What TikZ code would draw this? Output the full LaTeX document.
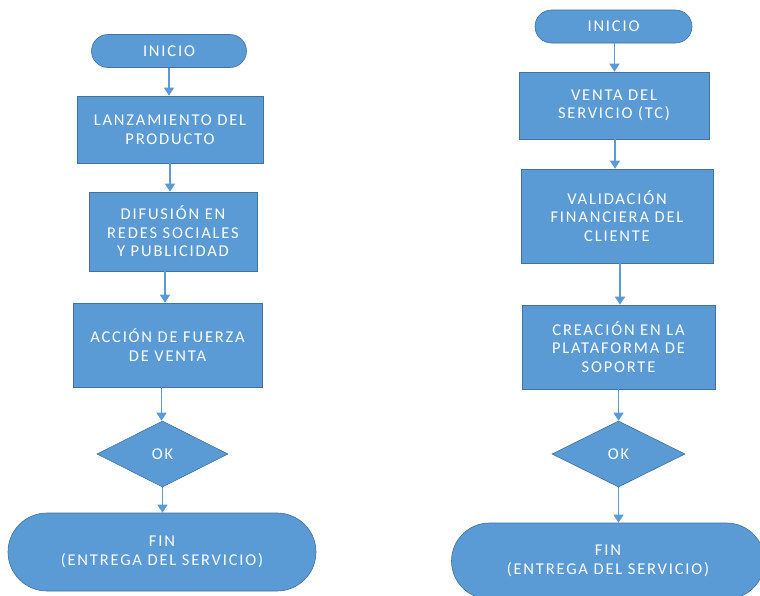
\documentclass[tikz,border=0pt]{standalone}
\usepackage{fontspec}
\newfontfamily\lbl{Carlito}[LetterSpace=11]
\usetikzlibrary{shapes.geometric,arrows.meta}
\definecolor{boxblue}{RGB}{91,155,213}
\definecolor{edgeblue}{RGB}{65,113,156}
\definecolor{arrblue}{RGB}{91,155,213}
\tikzset{
  base/.style={fill=boxblue, draw=edgeblue, line width=0.6pt, text=white, align=center,
    font=\lbl\fontsize{16.5}{18.5}\selectfont, inner sep=0pt},
  procbox/.style={base, rectangle},
  termbox/.style={base, rectangle},
  okbox/.style={base, diamond},
  arr/.style={draw=arrblue, line width=1.3pt, -{Triangle[width=10pt,length=8pt]}}
}
\begin{document}
\begin{tikzpicture}[x=1pt,y=-1pt]
\useasboundingbox (0,0) rectangle (760,595);
\path[clip] (0,0) rectangle (760,595);
\fill[white] (0,0) rectangle (760,595);
% left chart
\node[termbox, minimum width=155pt, minimum height=33pt, rounded corners=16.5pt] (i1) at (169,51) {INICIO};
\node[procbox, minimum width=186pt, minimum height=67pt] (b1) at (170,129.5) {LANZAMIENTO DEL\\PRODUCTO};
\node[procbox, minimum width=168pt, minimum height=79pt] (b2) at (173,231.5) {DIFUSIÓN EN\\REDES SOCIALES\\Y PUBLICIDAD};
\node[procbox, minimum width=189pt, minimum height=84pt] (b3) at (167.5,345) {ACCIÓN DE FUERZA\\DE VENTA};
\node[okbox, minimum width=131pt, minimum height=66pt] (d1) at (162.5,454) {OK};
\node[termbox, minimum width=308pt, minimum height=78pt, rounded corners=39pt] (f1) at (162,552) {FIN\\(ENTREGA DEL SERVICIO)};
% right chart
\node[termbox, minimum width=157pt, minimum height=33pt, rounded corners=16.5pt] (i2) at (613.5,26.5) {INICIO};
\node[procbox, minimum width=190pt, minimum height=67pt] (c1) at (614,105.5) {VENTA DEL\\SERVICIO (TC)};
\node[procbox, minimum width=192pt, minimum height=94pt] (c2) at (617,216) {VALIDACIÓN\\FINANCIERA DEL\\CLIENTE};
\node[procbox, minimum width=193pt, minimum height=84pt] (c3) at (618.5,347) {CREACIÓN EN LA\\PLATAFORMA DE\\SOPORTE};
\node[okbox, minimum width=133pt, minimum height=66pt] (d2) at (618.5,454) {OK};
\node[termbox, minimum width=313pt, minimum height=76pt, rounded corners=38pt] (f2) at (608,561) {FIN\\(ENTREGA DEL SERVICIO)};
% connectors
\draw[arr] (i1.south) -- (i1.south |- b1.north);
\draw[arr] (b1.south) -- (b1.south |- b2.north);
\draw[arr] ([xshift=-8pt,yshift=4pt]b2.south) -- ([xshift=-8pt]b2.south |- b3.north);
\draw[arr] ([xshift=-6pt,yshift=2pt]b3.south) -- ([xshift=-6pt]b3.south |- d1.north);
\draw[arr] (d1.south) -- (d1.south |- f1.north);
\draw[arr] ([xshift=1pt]i2.south) -- ([xshift=1pt]i2.south |- c1.north);
\draw[arr] ([xshift=1pt]c1.south) -- ([xshift=1pt]c1.south |- c2.north);
\draw[arr] ([xshift=3pt]c2.south) -- ([xshift=3pt]c2.south |- c3.north);
\draw[arr] (c3.south) -- (c3.south |- d2.north);
\draw[arr] (d2.south) -- (d2.south |- f2.north);
\end{tikzpicture}
\end{document}
